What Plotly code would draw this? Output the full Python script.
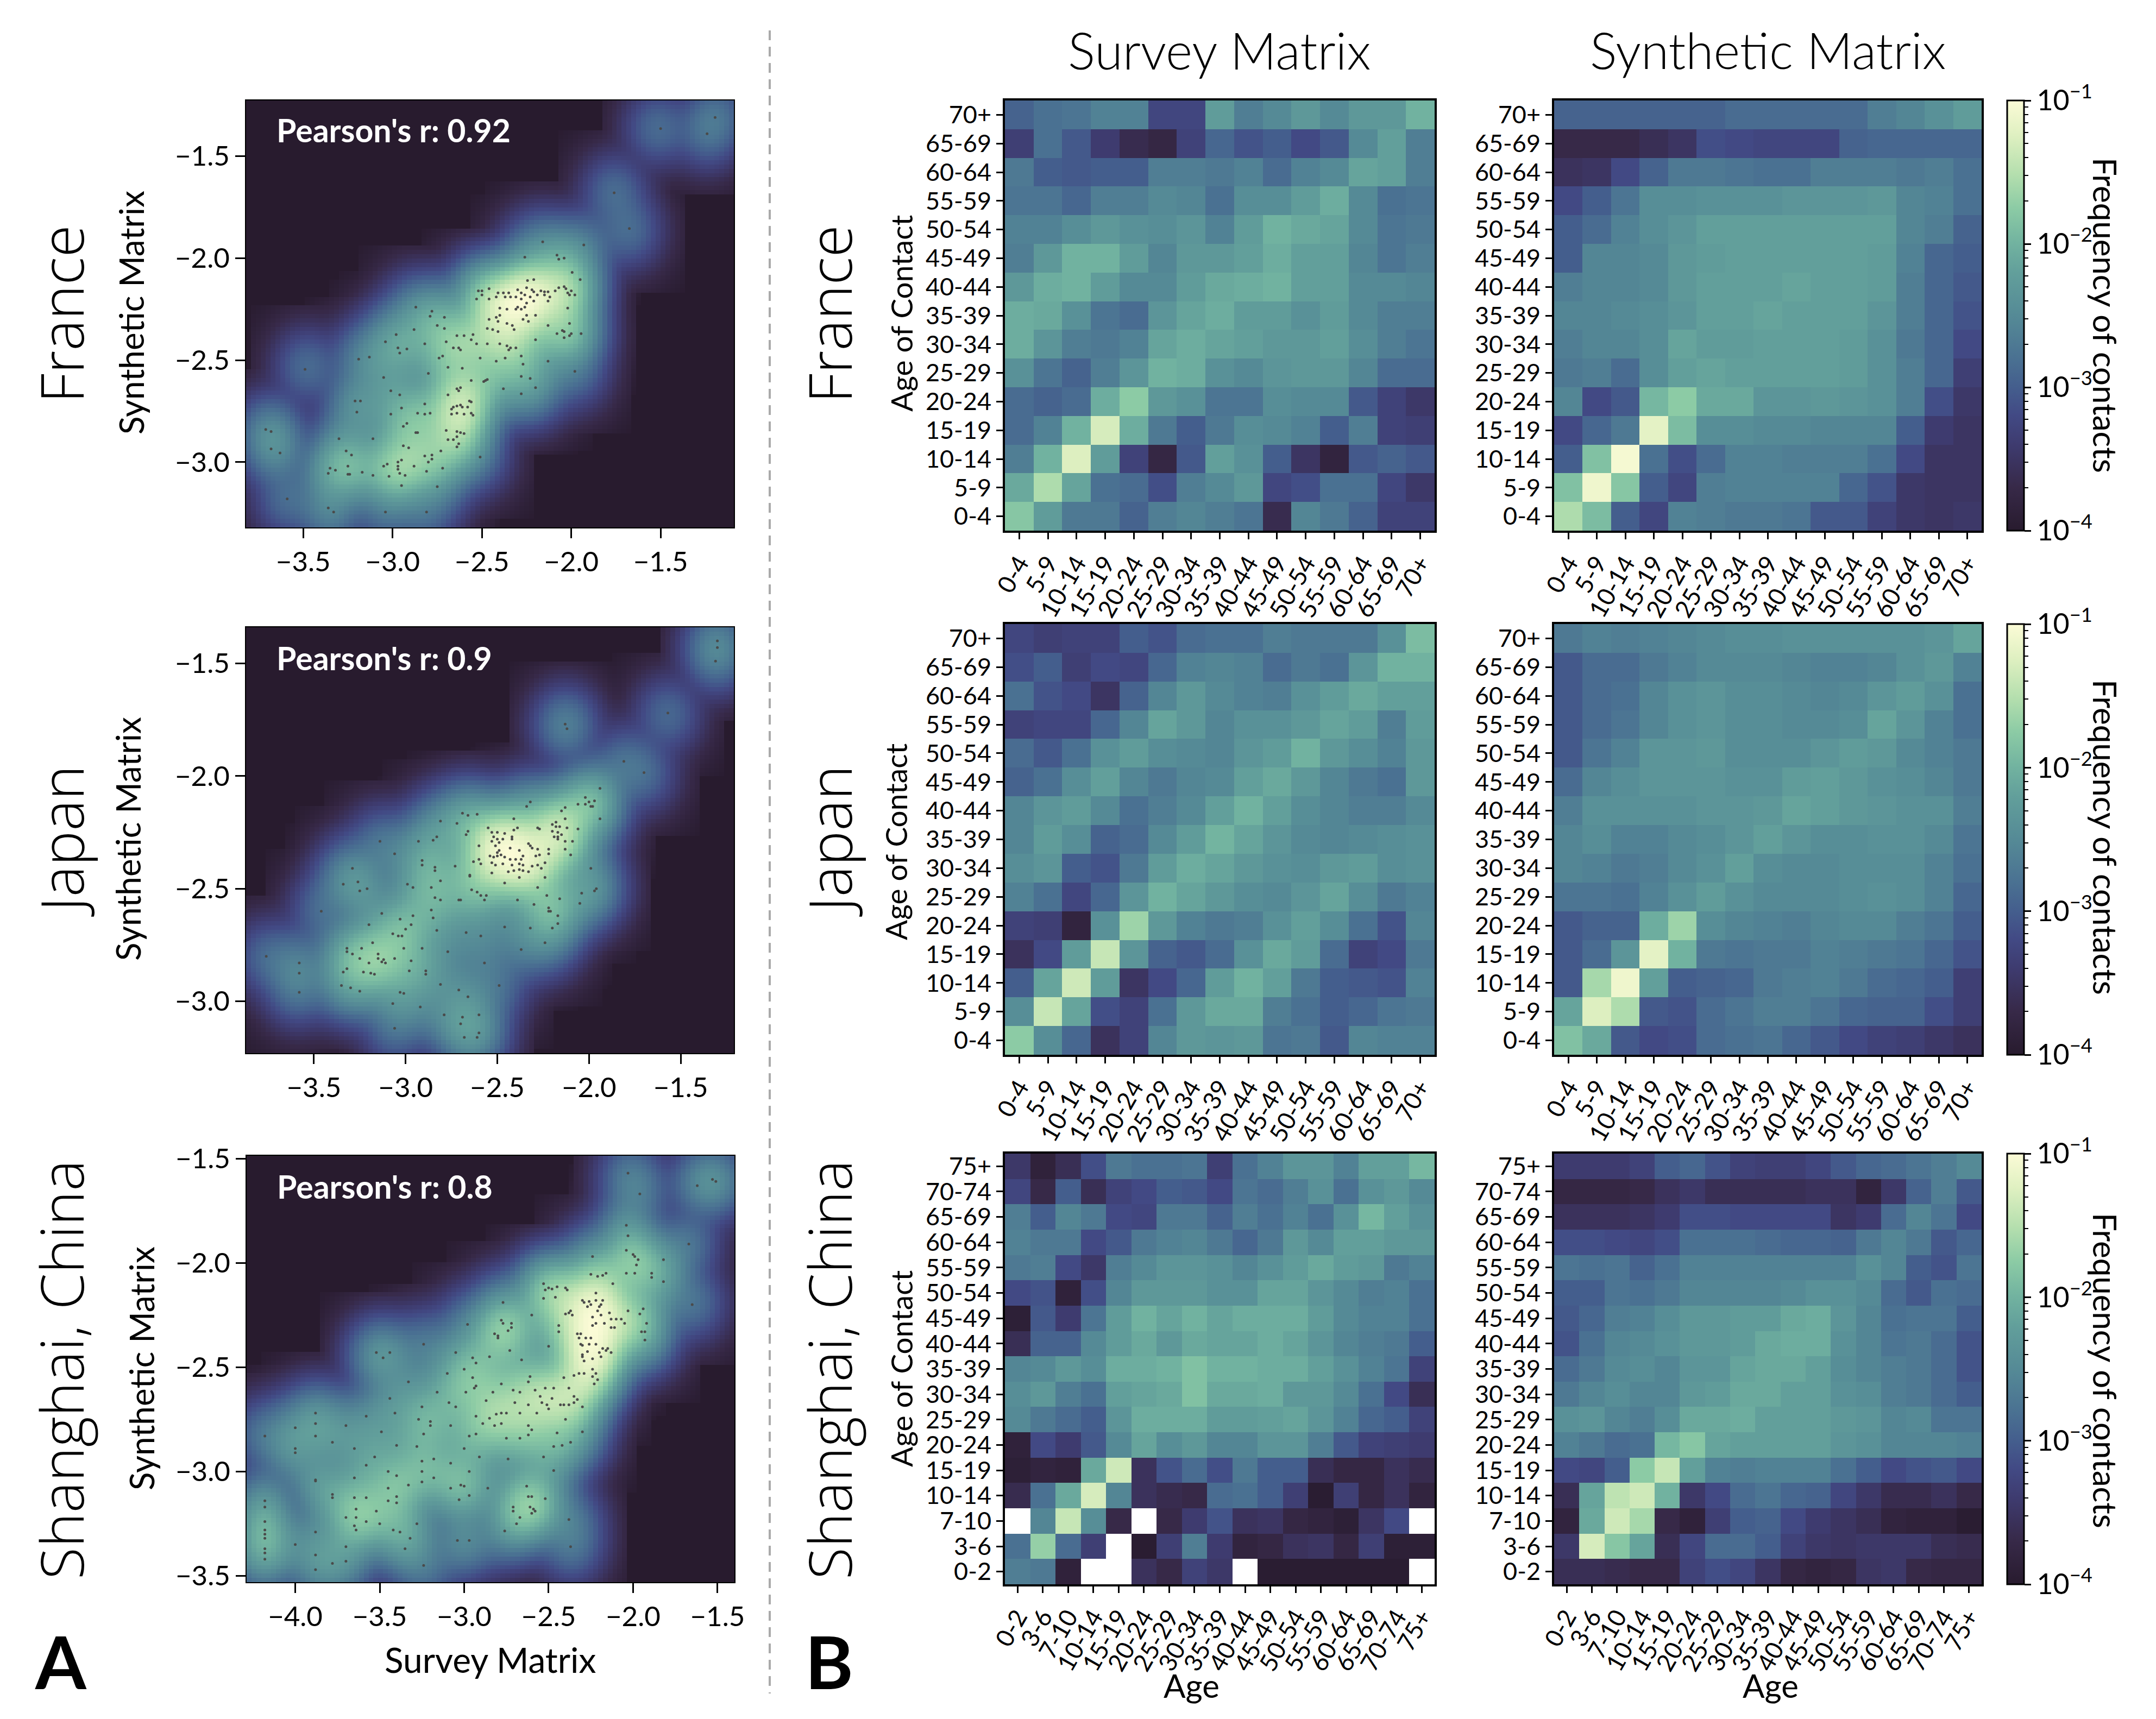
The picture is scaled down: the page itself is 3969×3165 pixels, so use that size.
import numpy as np
import plotly.graph_objects as go

W, H = 3969, 3165

ages_16 = ["0-4", "5-9", "10-14", "15-19", "20-24", "25-29", "30-34", "35-39", "40-44",
           "45-49", "50-54", "55-59", "60-64", "65-69", "70+"]
ages_17 = ["0-2", "3-6", "7-10", "10-14", "15-19", "20-24", "25-29", "30-34", "35-39", "40-44",
           "45-49", "50-54", "55-59", "60-64", "65-69", "70-74", "75+"]

# log10 contact frequency, rows listed top (oldest) to bottom (youngest)
france_survey = [
    [-2.95, -2.8, -2.75, -2.6, -2.6, -3.25, -3.25, -2.25, -2.65, -2.5, -2.3, -2.5, -2.3, -2.3, -2.0],
    [-3.35, -2.8, -3.05, -3.4, -3.65, -3.75, -3.3, -2.9, -3.1, -3.0, -3.2, -3.05, -2.5, -2.2, -2.65],
    [-2.7, -3.0, -3.05, -3.0, -3.0, -2.65, -2.65, -2.7, -2.6, -2.85, -2.6, -2.5, -2.15, -2.2, -2.65],
    [-2.75, -2.75, -2.9, -2.65, -2.65, -2.5, -2.55, -2.8, -2.45, -2.45, -2.25, -2.05, -2.5, -2.8, -2.75],
    [-2.6, -2.6, -2.45, -2.3, -2.4, -2.45, -2.35, -2.6, -2.25, -2.0, -2.1, -2.15, -2.5, -2.75, -2.7],
    [-2.65, -2.3, -2.0, -2.0, -2.25, -2.55, -2.3, -2.3, -2.2, -2.05, -2.2, -2.2, -2.55, -2.75, -2.65],
    [-2.3, -2.05, -2.0, -2.25, -2.5, -2.5, -2.25, -2.1, -2.05, -2.0, -2.2, -2.2, -2.5, -2.5, -2.55],
    [-2.05, -2.1, -2.4, -2.75, -2.85, -2.35, -2.15, -2.05, -2.25, -2.25, -2.4, -2.25, -2.5, -2.65, -2.65],
    [-2.05, -2.35, -2.65, -2.7, -2.6, -2.15, -2.05, -2.15, -2.2, -2.3, -2.3, -2.2, -2.45, -2.65, -2.75],
    [-2.4, -2.75, -2.95, -2.65, -2.35, -2.0, -2.05, -2.4, -2.5, -2.35, -2.3, -2.3, -2.55, -2.85, -2.85],
    [-2.85, -2.95, -2.85, -2.05, -1.75, -2.3, -2.4, -2.75, -2.75, -2.45, -2.5, -2.5, -3.05, -3.3, -3.45],
    [-2.85, -2.6, -2.0, -1.3, -2.05, -2.7, -3.0, -2.7, -2.45, -2.5, -2.6, -3.0, -2.65, -3.3, -3.35],
    [-2.65, -2.0, -1.25, -2.25, -3.3, -3.75, -3.05, -2.2, -2.4, -3.0, -3.5, -3.8, -3.05, -2.95, -3.05],
    [-2.1, -1.55, -2.15, -2.8, -2.85, -3.15, -2.65, -2.5, -2.3, -3.25, -3.15, -2.8, -2.8, -3.25, -3.45],
    [-1.8, -2.25, -2.7, -2.7, -2.95, -2.65, -2.55, -2.65, -2.75, -3.65, -2.55, -2.7, -2.95, -3.3, -3.3],
]
france_synthetic = [
    [-2.95, -2.95, -2.95, -2.95, -2.95, -2.95, -2.85, -2.85, -2.85, -2.85, -2.85, -2.65, -2.55, -2.4, -2.25],
    [-3.7, -3.7, -3.7, -3.6, -3.5, -3.15, -3.2, -3.25, -3.25, -3.25, -2.95, -2.9, -2.9, -2.9, -2.9],
    [-3.55, -3.5, -3.2, -2.95, -2.7, -2.7, -2.75, -2.8, -2.8, -2.65, -2.65, -2.65, -2.7, -2.65, -2.8],
    [-3.2, -3.0, -2.75, -2.45, -2.45, -2.4, -2.4, -2.4, -2.35, -2.35, -2.35, -2.3, -2.55, -2.6, -2.8],
    [-3.0, -2.85, -2.6, -2.45, -2.35, -2.2, -2.2, -2.2, -2.2, -2.2, -2.2, -2.2, -2.55, -2.65, -2.95],
    [-3.0, -2.55, -2.55, -2.5, -2.3, -2.25, -2.2, -2.2, -2.2, -2.2, -2.2, -2.25, -2.6, -2.9, -3.0],
    [-2.65, -2.55, -2.55, -2.5, -2.3, -2.2, -2.2, -2.2, -2.15, -2.2, -2.2, -2.25, -2.65, -2.9, -3.05],
    [-2.55, -2.55, -2.5, -2.45, -2.35, -2.2, -2.2, -2.15, -2.2, -2.2, -2.2, -2.35, -2.65, -2.9, -3.1],
    [-2.65, -2.55, -2.55, -2.45, -2.15, -2.25, -2.25, -2.2, -2.2, -2.2, -2.25, -2.4, -2.7, -2.9, -3.2],
    [-2.7, -2.65, -2.85, -2.45, -2.2, -2.15, -2.2, -2.2, -2.2, -2.2, -2.25, -2.4, -2.65, -2.9, -3.35],
    [-2.55, -3.2, -3.05, -1.95, -1.75, -2.1, -2.1, -2.35, -2.35, -2.3, -2.35, -2.4, -2.65, -3.15, -3.45],
    [-3.2, -2.9, -2.7, -1.2, -1.9, -2.45, -2.45, -2.5, -2.5, -2.55, -2.55, -2.55, -3.0, -3.4, -3.5],
    [-3.0, -1.85, -1.05, -2.8, -3.15, -2.85, -2.6, -2.6, -2.65, -2.65, -2.65, -2.8, -3.2, -3.5, -3.5],
    [-1.85, -1.1, -1.8, -3.0, -3.25, -2.65, -2.6, -2.6, -2.6, -2.6, -2.9, -3.1, -3.45, -3.5, -3.5],
    [-1.55, -1.9, -3.0, -3.25, -2.6, -2.65, -2.7, -2.7, -2.75, -3.05, -3.05, -3.3, -3.45, -3.5, -3.45],
]
japan_survey = [
    [-3.25, -3.35, -3.3, -3.3, -3.0, -3.1, -2.85, -2.8, -2.8, -2.65, -2.7, -2.7, -2.7, -2.4, -1.9],
    [-3.15, -3.0, -3.35, -3.2, -3.25, -2.9, -2.6, -2.55, -2.6, -2.85, -2.7, -2.8, -2.35, -2.0, -2.0],
    [-2.8, -3.1, -3.2, -3.5, -2.95, -2.55, -2.3, -2.5, -2.6, -2.65, -2.4, -2.25, -2.1, -2.2, -2.2],
    [-3.3, -3.25, -3.25, -2.9, -2.55, -2.15, -2.3, -2.55, -2.4, -2.4, -2.3, -2.15, -2.25, -2.65, -2.25],
    [-2.85, -3.05, -2.8, -2.4, -2.25, -2.45, -2.5, -2.55, -2.35, -2.25, -2.0, -2.3, -2.45, -2.6, -2.3],
    [-2.95, -2.8, -2.45, -2.2, -2.55, -2.7, -2.55, -2.5, -2.2, -2.1, -2.3, -2.55, -2.7, -2.8, -2.3],
    [-2.55, -2.35, -2.25, -2.5, -2.8, -2.65, -2.5, -2.2, -2.0, -2.2, -2.45, -2.55, -2.65, -2.65, -2.5],
    [-2.55, -2.25, -2.45, -2.95, -2.85, -2.5, -2.25, -1.98, -2.15, -2.35, -2.5, -2.55, -2.5, -2.45, -2.4],
    [-2.45, -2.35, -3.0, -3.1, -2.7, -2.25, -2.05, -2.15, -2.3, -2.4, -2.45, -2.3, -2.25, -2.45, -2.4],
    [-2.6, -2.8, -3.25, -2.9, -2.35, -2.0, -2.15, -2.3, -2.45, -2.5, -2.35, -2.15, -2.45, -2.7, -2.6],
    [-3.3, -3.35, -3.8, -2.4, -1.65, -2.3, -2.6, -2.7, -2.65, -2.4, -2.2, -2.45, -2.8, -3.1, -2.55],
    [-3.55, -3.2, -2.25, -1.4, -2.35, -2.95, -3.05, -2.85, -2.4, -2.1, -2.25, -2.85, -3.3, -3.2, -2.7],
    [-3.0, -2.15, -1.35, -2.25, -3.5, -3.2, -2.9, -2.25, -2.0, -2.2, -2.7, -3.0, -3.05, -3.1, -2.6],
    [-2.45, -1.4, -2.15, -3.15, -3.3, -2.8, -2.3, -2.1, -2.1, -2.65, -2.8, -3.0, -2.9, -2.75, -2.7],
    [-1.75, -2.45, -2.9, -3.55, -3.3, -2.55, -2.3, -2.35, -2.3, -2.75, -2.7, -3.05, -2.55, -2.6, -2.6],
]
japan_synthetic = [
    [-2.7, -2.6, -2.65, -2.6, -2.55, -2.5, -2.45, -2.45, -2.4, -2.4, -2.4, -2.4, -2.4, -2.35, -2.15],
    [-3.05, -2.85, -2.85, -2.7, -2.6, -2.5, -2.5, -2.5, -2.55, -2.6, -2.6, -2.55, -2.4, -2.3, -2.6],
    [-3.05, -2.85, -2.8, -2.55, -2.4, -2.35, -2.45, -2.45, -2.5, -2.55, -2.5, -2.35, -2.25, -2.4, -2.8],
    [-3.05, -2.85, -2.75, -2.55, -2.4, -2.35, -2.45, -2.45, -2.5, -2.5, -2.45, -2.15, -2.35, -2.6, -2.8],
    [-3.05, -2.75, -2.6, -2.35, -2.35, -2.3, -2.45, -2.45, -2.45, -2.35, -2.25, -2.3, -2.5, -2.6, -2.7],
    [-2.85, -2.55, -2.45, -2.35, -2.35, -2.35, -2.4, -2.4, -2.25, -2.2, -2.3, -2.4, -2.45, -2.55, -2.7],
    [-2.65, -2.4, -2.4, -2.4, -2.4, -2.35, -2.35, -2.3, -2.15, -2.2, -2.3, -2.35, -2.4, -2.4, -2.65],
    [-2.55, -2.45, -2.6, -2.6, -2.5, -2.45, -2.35, -2.2, -2.35, -2.45, -2.45, -2.4, -2.4, -2.5, -2.75],
    [-2.55, -2.6, -2.7, -2.65, -2.5, -2.4, -2.2, -2.45, -2.5, -2.5, -2.45, -2.45, -2.45, -2.6, -2.8],
    [-2.75, -2.75, -2.8, -2.6, -2.4, -2.25, -2.4, -2.5, -2.5, -2.5, -2.45, -2.4, -2.45, -2.6, -2.9],
    [-3.05, -2.95, -2.95, -2.05, -1.65, -2.45, -2.55, -2.6, -2.65, -2.55, -2.5, -2.5, -2.65, -2.75, -3.0],
    [-3.05, -2.85, -2.35, -1.2, -2.0, -2.7, -2.75, -2.7, -2.7, -2.6, -2.65, -2.7, -2.75, -2.9, -3.1],
    [-3.05, -1.6, -1.1, -2.2, -3.0, -2.95, -2.9, -2.7, -2.65, -2.6, -2.7, -2.85, -2.9, -3.0, -3.35],
    [-2.15, -1.25, -1.55, -3.05, -3.1, -2.85, -2.75, -2.65, -2.65, -2.75, -2.9, -2.95, -2.95, -3.15, -3.35],
    [-1.85, -2.1, -3.05, -3.2, -3.15, -2.85, -2.8, -2.75, -2.9, -3.05, -3.2, -3.3, -3.35, -3.45, -3.55],
]
# None = no contacts recorded, left white
shanghai_survey = [
    [-3.45, -3.85, -3.6, -3.15, -2.7, -2.8, -2.8, -2.75, -3.35, -2.8, -2.6, -2.35, -2.35, -2.6, -2.2, -2.2, -1.95],
    [-3.25, -3.7, -3.0, -3.6, -3.3, -3.2, -3.0, -3.05, -3.2, -2.75, -2.85, -2.65, -2.4, -2.8, -2.4, -2.3, -2.5],
    [-2.65, -3.0, -2.55, -2.7, -3.2, -3.25, -2.7, -2.7, -2.95, -2.65, -2.8, -2.6, -2.8, -2.4, -1.95, -2.2, -2.4],
    [-2.6, -2.7, -2.7, -3.2, -3.05, -2.7, -2.6, -2.55, -2.7, -2.9, -2.7, -2.3, -2.5, -2.2, -2.2, -2.3, -2.3],
    [-2.7, -2.65, -3.2, -3.45, -2.65, -2.5, -2.35, -2.35, -2.4, -2.55, -2.4, -2.25, -2.1, -2.25, -2.3, -2.7, -2.6],
    [-3.2, -3.1, -3.85, -3.15, -2.55, -2.3, -2.3, -2.3, -2.4, -2.4, -2.15, -2.15, -2.35, -2.5, -2.65, -2.6, -2.8],
    [-3.9, -3.05, -3.4, -2.75, -2.25, -2.0, -2.15, -2.0, -2.15, -2.05, -2.05, -2.05, -2.25, -2.5, -2.6, -2.6, -2.8],
    [-3.6, -2.95, -2.95, -2.5, -2.25, -2.1, -2.3, -2.1, -2.15, -2.15, -2.05, -2.15, -2.35, -2.55, -2.65, -2.7, -3.0],
    [-2.55, -2.5, -2.3, -2.45, -2.05, -2.05, -2.0, -1.85, -2.0, -2.0, -2.05, -2.05, -2.2, -2.4, -2.6, -2.75, -3.3],
    [-2.45, -2.3, -2.65, -2.8, -2.2, -2.15, -2.1, -1.85, -2.1, -2.1, -2.05, -2.3, -2.3, -2.5, -2.8, -3.2, -3.6],
    [-2.5, -2.7, -2.85, -3.0, -2.35, -2.05, -2.05, -2.05, -2.25, -2.25, -2.2, -2.15, -2.35, -2.6, -2.9, -3.0, -3.3],
    [-3.85, -3.2, -3.4, -3.05, -2.5, -2.15, -2.45, -2.3, -2.55, -2.55, -2.35, -2.35, -2.65, -3.05, -3.3, -3.35, -3.4],
    [-3.9, -3.8, -3.85, -2.1, -1.35, -3.55, -3.1, -2.85, -3.15, -2.7, -3.0, -3.0, -3.6, -3.75, -3.75, -3.55, -3.65],
    [-3.65, -2.8, -2.1, -1.3, -2.55, -3.55, -3.65, -3.7, -2.85, -2.8, -3.0, -3.35, -3.95, -3.35, -3.75, -3.55, -3.8],
    [None, -2.55, -1.4, -2.45, -3.7, None, -3.7, -3.4, -3.1, -3.55, -3.5, -3.75, -3.8, -3.9, -3.5, -3.2, None],
    [-2.8, -1.7, -2.85, -3.35, None, -3.95, -3.35, -2.65, -3.4, -3.8, -3.75, -3.55, -3.5, -3.75, -3.35, -3.9, -3.9],
    [-2.65, -2.7, -3.85, None, None, -3.55, -3.7, -3.3, -3.45, None, -3.95, -3.95, -3.95, -3.95, -3.95, -3.95, None],
]
shanghai_synthetic = [
    [-3.4, -3.4, -3.4, -3.3, -3.0, -2.9, -3.1, -3.3, -3.35, -3.35, -3.25, -3.05, -2.9, -2.85, -2.75, -2.65, -2.5],
    [-3.75, -3.75, -3.75, -3.7, -3.55, -3.45, -3.6, -3.6, -3.6, -3.6, -3.55, -3.55, -3.8, -3.45, -2.95, -2.65, -3.05],
    [-3.55, -3.55, -3.55, -3.5, -3.4, -3.15, -3.15, -3.2, -3.2, -3.2, -3.2, -3.5, -3.4, -2.85, -2.55, -2.75, -3.2],
    [-3.15, -3.15, -3.2, -3.25, -3.15, -2.8, -2.8, -2.8, -2.85, -2.9, -2.9, -2.95, -2.7, -2.55, -2.7, -3.05, -2.9],
    [-2.75, -2.8, -2.75, -2.95, -2.8, -2.6, -2.6, -2.6, -2.6, -2.6, -2.6, -2.6, -2.4, -2.55, -3.0, -3.1, -2.75],
    [-3.0, -3.0, -2.75, -2.8, -2.7, -2.55, -2.55, -2.55, -2.55, -2.5, -2.4, -2.4, -2.5, -2.85, -3.05, -2.8, -2.85],
    [-3.05, -2.9, -2.65, -2.6, -2.45, -2.3, -2.3, -2.25, -2.25, -2.1, -2.05, -2.35, -2.55, -2.8, -2.75, -2.75, -3.0],
    [-3.1, -2.8, -2.55, -2.5, -2.4, -2.3, -2.3, -2.25, -2.1, -2.05, -2.05, -2.4, -2.55, -2.75, -2.7, -2.85, -3.1],
    [-2.85, -2.7, -2.5, -2.45, -2.55, -2.35, -2.35, -2.15, -2.1, -2.1, -2.2, -2.45, -2.55, -2.65, -2.7, -2.85, -3.1],
    [-2.7, -2.55, -2.45, -2.55, -2.55, -2.3, -2.25, -2.1, -2.1, -2.2, -2.2, -2.4, -2.45, -2.65, -2.7, -2.85, -3.0],
    [-2.4, -2.35, -2.55, -2.65, -2.45, -2.1, -2.1, -2.05, -2.2, -2.2, -2.2, -2.3, -2.35, -2.55, -2.5, -2.75, -2.75],
    [-2.6, -2.7, -2.85, -2.8, -1.95, -1.8, -2.15, -2.2, -2.2, -2.2, -2.2, -2.35, -2.4, -2.55, -2.55, -2.55, -2.6],
    [-3.2, -3.25, -3.0, -1.75, -1.4, -2.2, -2.6, -2.65, -2.6, -2.6, -2.6, -2.8, -3.0, -3.2, -3.1, -3.05, -3.2],
    [-3.6, -2.15, -1.45, -1.35, -2.0, -3.45, -3.2, -2.85, -2.75, -2.9, -2.95, -3.25, -3.45, -3.65, -3.65, -3.55, -3.7],
    [-3.8, -2.1, -1.35, -1.6, -3.7, -3.85, -3.35, -3.0, -2.95, -3.2, -3.4, -3.5, -3.6, -3.8, -3.85, -3.85, -3.95],
    [-3.45, -1.3, -1.8, -2.15, -3.6, -3.25, -2.85, -2.85, -3.0, -3.3, -3.45, -3.5, -3.45, -3.45, -3.45, -3.6, -3.65],
    [-3.6, -3.6, -3.65, -3.7, -3.7, -3.3, -3.15, -3.25, -3.5, -3.75, -3.8, -3.75, -3.5, -3.45, -3.7, -3.75, -3.75],
]

# (survey, synthetic) log10 pairs
france_points = [
    (-1.195, -1.31), (-1.5, -1.365), (-1.24, -1.39), (-1.76, -1.68), (-1.675, -1.855), (-2.16, -1.92), (-1.93, -1.935),
    (-2.26, -1.995), (-2.08, -1.985), (-2.07, -2.005), (-2.04, -2.0), (-1.995, -2.07), (-1.95, -2.105), (-2.21, -2.105),
    (-2.245, -2.11), (-2.5, -2.16), (-2.52, -2.16), (-2.46, -2.15), (-2.41, -2.17), (-2.38, -2.17), (-2.35, -2.17),
    (-2.3, -2.155), (-2.28, -2.17), (-2.25, -2.145), (-2.22, -2.155), (-2.21, -2.165), (-2.17, -2.16), (-2.15, -2.165),
    (-2.13, -2.165), (-2.09, -2.16), (-2.07, -2.145), (-2.04, -2.14), (-2.03, -2.15), (-2.0, -2.16), (-1.98, -2.18),
    (-2.01, -2.18), (-2.02, -2.17), (-2.53, -2.2), (-2.5, -2.18), (-2.46, -2.2), (-2.42, -2.19), (-2.37, -2.19),
    (-2.34, -2.19), (-2.31, -2.19), (-2.28, -2.2), (-2.26, -2.18), (-2.23, -2.19), (-2.19, -2.18), (-2.15, -2.18),
    (-2.12, -2.19), (-2.21, -2.21), (-2.25, -2.22), (-2.13, -2.21), (-2.4, -2.245), (-2.36, -2.25), (-2.3, -2.24),
    (-2.28, -2.25), (-2.26, -2.24), (-2.31, -2.25), (-2.25, -2.28), (-2.27, -2.3), (-2.2, -2.28), (-2.24, -2.31),
    (-2.02, -2.245), (-2.4, -2.28), (-2.42, -2.29), (-2.46, -2.3), (-2.41, -2.31), (-2.36, -2.32), (-2.33, -2.33),
    (-2.32, -2.35), (-2.47, -2.345), (-2.44, -2.35), (-2.41, -2.36), (-2.13, -2.33), (-2.01, -2.32), (-2.05, -2.355),
    (-2.04, -2.36), (-2.08, -2.37), (-2.04, -2.39), (-2.01, -2.38), (-1.945, -2.37), (-2.0, -2.37), (-2.55, -2.375),
    (-2.6, -2.38), (-2.64, -2.38), (-2.56, -2.4), (-2.66, -2.44), (-2.63, -2.44), (-2.62, -2.45), (-2.53, -2.42),
    (-2.47, -2.42), (-2.4, -2.42), (-2.36, -2.43), (-2.34, -2.44), (-2.35, -2.45), (-2.31, -2.44), (-2.28, -2.48),
    (-2.2, -2.4), (-2.72, -2.48), (-2.74, -2.49), (-2.7, -2.41), (-2.82, -2.42), (-2.88, -2.35), (-2.98, -2.375),
    (-3.04, -2.41), (-2.97, -2.44), (-2.96, -2.465), (-2.92, -2.445), (-3.13, -2.485), (-3.19, -2.495), (-2.75, -2.33),
    (-2.71, -2.345), (-2.87, -2.24), (-2.78, -2.26), (-2.79, -2.285), (-2.71, -2.29), (-2.51, -2.49), (-2.42, -2.505),
    (-2.37, -2.49), (-2.27, -2.52), (-2.13, -2.505), (-2.69, -2.535), (-2.61, -2.54), (-2.28, -2.58), (-2.23, -2.59),
    (-1.98, -2.555), (-3.49, -2.545), (-3.05, -2.585), (-2.8, -2.565), (-2.56, -2.6), (-2.49, -2.605), (-2.48, -2.6),
    (-2.47, -2.595), (-2.38, -2.64), (-2.2, -2.635), (-2.28, -2.665), (-2.64, -2.64), (-2.62, -2.635), (-2.63, -2.65),
    (-2.69, -2.67), (-3.01, -2.65), (-2.96, -2.67), (-2.57, -2.7), (-2.56, -2.705), (-3.21, -2.7), (-3.18, -2.7),
    (-2.82, -2.715), (-2.95, -2.735), (-2.64, -2.725), (-2.66, -2.73), (-2.62, -2.72), (-2.61, -2.73), (-2.67, -2.74),
    (-2.58, -2.73), (-3.2, -2.755), (-3.01, -2.765), (-2.86, -2.76), (-2.82, -2.765), (-2.79, -2.76), (-2.67, -2.765),
    (-2.64, -2.76), (-2.6, -2.765), (-2.56, -2.76), (-2.55, -2.77), (-2.92, -2.81), (-2.94, -2.825), (-2.87, -2.855),
    (-2.86, -2.855), (-2.7, -2.845), (-2.64, -2.85), (-2.62, -2.855), (-2.6, -2.86), (-2.66, -2.89), (-2.69, -2.89),
    (-2.64, -2.875), (-2.63, -2.91), (-2.64, -2.925), (-3.3, -2.885), (-3.11, -2.885), (-3.71, -2.84), (-3.68, -2.85),
    (-3.68, -2.935), (-3.63, -2.955), (-2.94, -2.92), (-2.91, -2.93), (-2.73, -2.945), (-3.26, -2.945), (-3.23, -2.965),
    (-2.78, -2.965), (-2.82, -2.97), (-2.78, -2.985), (-2.51, -2.975), (-3.25, -3.02), (-3.05, -3.02), (-3.03, -3.01),
    (-2.95, -2.99), (-2.97, -3.0), (-2.97, -3.02), (-2.88, -3.02), (-2.8, -3.0), (-2.72, -3.03), (-3.36, -3.055),
    (-3.35, -3.03), (-3.32, -3.04), (-3.25, -3.06), (-3.24, -3.06), (-3.17, -3.05), (-3.11, -3.065), (-3.02, -3.07),
    (-2.96, -3.055), (-2.93, -3.065), (-2.97, -3.035), (-2.81, -3.045), (-2.95, -3.115), (-2.75, -3.12), (-3.59, -3.18),
    (-3.36, -3.225), (-3.33, -3.245), (-3.04, -3.245), (-2.81, -3.245),
]
japan_points = [
    (-1.3, -1.4), (-1.3, -1.43), (-1.31, -1.49), (-1.57, -1.72), (-2.13, -1.77), (-2.12, -1.79), (-1.81, -1.935),
    (-1.7, -1.985), (-1.94, -2.055), (-2.02, -2.095), (-2.0, -2.115), (-1.97, -2.11), (-2.06, -2.125), (-2.02, -2.125),
    (-1.98, -2.135), (-1.99, -2.135), (-2.32, -2.115), (-2.34, -2.135), (-2.15, -2.155), (-2.13, -2.14), (-1.94, -2.19),
    (-2.41, -2.19), (-2.69, -2.165), (-2.66, -2.175), (-2.61, -2.17), (-2.81, -2.2), (-2.72, -2.21), (-2.13, -2.19),
    (-2.2, -2.215), (-2.18, -2.205), (-2.18, -2.225), (-2.16, -2.225), (-2.12, -2.23), (-2.06, -2.235), (-2.39, -2.23),
    (-2.41, -2.24), (-2.28, -2.23), (-2.27, -2.235), (-2.55, -2.23), (-2.66, -2.245), (-2.67, -2.26), (-2.5, -2.25),
    (-2.46, -2.255), (-2.83, -2.27), (-2.2, -2.245), (-2.17, -2.25), (-2.17, -2.27), (-2.15, -2.26), (-2.19, -2.27),
    (-2.17, -2.28), (-2.13, -2.29), (-2.09, -2.29), (-2.53, -2.25), (-2.52, -2.27), (-2.5, -2.28), (-2.47, -2.28),
    (-2.49, -2.295), (-2.53, -2.29), (-2.42, -2.27), (-2.42, -2.28), (-2.33, -2.3), (-2.6, -2.31), (-2.51, -2.31),
    (-2.49, -2.33), (-2.5, -2.34), (-2.43, -2.32), (-2.38, -2.33), (-2.32, -2.31), (-2.31, -2.32), (-2.28, -2.325),
    (-2.22, -2.325), (-2.13, -2.325), (-2.6, -2.37), (-2.54, -2.355), (-2.52, -2.36), (-2.5, -2.355), (-2.48, -2.35),
    (-2.46, -2.36), (-2.43, -2.37), (-2.4, -2.37), (-2.37, -2.37), (-2.36, -2.355), (-2.29, -2.355), (-2.27, -2.35),
    (-2.22, -2.345), (-2.1, -2.35), (-2.59, -2.39), (-2.53, -2.385), (-2.51, -2.395), (-2.47, -2.39), (-2.42, -2.395),
    (-2.38, -2.39), (-2.36, -2.395), (-2.31, -2.4), (-2.28, -2.395), (-2.24, -2.385), (-2.41, -2.42), (-2.44, -2.425),
    (-2.38, -2.415), (-2.36, -2.42), (-2.33, -2.425), (-2.26, -2.41), (-3.14, -2.29), (-2.93, -2.29), (-2.85, -2.285),
    (-3.06, -2.345), (-2.91, -2.375), (-2.91, -2.395), (-2.73, -2.4), (-2.63, -2.38), (-2.84, -2.405), (-2.84, -2.42),
    (-3.29, -2.41), (-2.65, -2.44), (-2.65, -2.445), (-2.53, -2.43), (-3.26, -2.47), (-3.34, -2.48), (-2.99, -2.48),
    (-2.96, -2.495), (-2.81, -2.465), (-2.86, -2.495), (-2.46, -2.475), (-2.38, -2.45), (-2.24, -2.45), (-1.99, -2.41),
    (-1.97, -2.51), (-1.96, -2.5), (-3.25, -2.51), (-3.21, -2.5), (-2.64, -2.505), (-2.61, -2.515), (-2.28, -2.495),
    (-2.04, -2.52), (-2.23, -2.53), (-2.16, -2.545), (-2.59, -2.53), (-2.56, -2.53), (-2.57, -2.55), (-2.84, -2.54),
    (-2.81, -2.55), (-2.71, -2.55), (-2.7, -2.55), (-2.39, -2.55), (-2.3, -2.57), (-2.05, -2.565), (-3.46, -2.6),
    (-2.86, -2.595), (-2.85, -2.63), (-2.22, -2.585), (-2.21, -2.6), (-2.22, -2.6), (-3.13, -2.61), (-2.96, -2.62),
    (-3.03, -2.635), (-2.17, -2.62), (-3.2, -2.66), (-2.97, -2.66), (-3.0, -2.68), (-2.83, -2.685), (-2.67, -2.695),
    (-2.46, -2.67), (-2.32, -2.675), (-2.2, -2.675), (-2.17, -2.655), (-3.07, -2.7), (-3.04, -2.71), (-3.02, -2.71),
    (-2.59, -2.71), (-3.18, -2.74), (-2.24, -2.74), (-3.32, -2.765), (-3.24, -2.765), (-3.32, -2.78), (-3.01, -2.765),
    (-2.91, -2.765), (-3.29, -2.79), (-2.77, -2.78), (-3.15, -2.79), (-3.15, -2.81), (-3.25, -2.81), (-3.06, -2.81),
    (-3.12, -2.815), (-3.2, -2.83), (-3.11, -2.83), (-2.37, -2.77), (-3.13, -2.825), (-2.97, -2.82), (-2.57, -2.83),
    (-3.32, -2.855), (-3.34, -2.87), (-3.23, -2.87), (-3.19, -2.875), (-3.17, -2.88), (-2.98, -2.865), (-2.89, -2.865),
    (-2.89, -2.88), (-3.58, -2.83), (-3.58, -2.875), (-3.76, -2.8), (-3.58, -2.96), (-3.35, -2.93), (-3.3, -2.94),
    (-3.25, -2.955), (-2.81, -2.925), (-2.71, -2.95), (-2.49, -2.93), (-3.03, -2.96), (-3.01, -2.965), (-2.66, -2.98),
    (-3.07, -3.01), (-2.92, -3.025), (-2.79, -3.06), (-2.69, -3.07), (-2.7, -3.1), (-2.6, -3.06), (-3.06, -3.12),
    (-2.6, -3.14), (-2.61, -3.16), (-2.68, -3.16),
]
shanghai_points = [
    (-1.53, -1.6), (-1.51, -1.61), (-1.62, -1.63), (-2.03, -1.57), (-1.96, -1.67), (-2.04, -1.82), (-2.03, -1.87),
    (-1.67, -1.91), (-2.04, -1.94), (-2.0, -1.96), (-1.99, -1.97), (-1.97, -1.985), (-2.24, -1.97), (-1.82, -1.985),
    (-1.98, -2.01), (-2.04, -2.05), (-1.99, -2.05), (-1.89, -2.05), (-1.89, -2.07), (-1.82, -2.09), (-2.25, -2.055),
    (-2.21, -2.065), (-2.18, -2.06), (-2.16, -2.05), (-2.12, -2.1), (-2.53, -2.1), (-2.5, -2.12), (-2.48, -2.125),
    (-2.52, -2.13), (-2.45, -2.115), (-2.39, -2.13), (-2.4, -2.12), (-2.53, -2.17), (-2.46, -2.165), (-2.22, -2.145),
    (-2.3, -2.18), (-2.29, -2.19), (-2.26, -2.185), (-2.22, -2.18), (-2.18, -2.18), (-2.27, -2.21), (-2.25, -2.2),
    (-2.2, -2.21), (-2.19, -2.2), (-2.21, -2.23), (-1.65, -2.2), (-2.77, -2.19), (-2.03, -2.23), (-1.94, -2.22),
    (-1.96, -2.245), (-2.37, -2.23), (-2.4, -2.245), (-2.38, -2.24), (-2.36, -2.25), (-2.24, -2.26), (-2.19, -2.25),
    (-2.13, -2.27), (-2.1, -2.27), (-2.14, -2.24), (-2.07, -2.27), (-2.05, -2.29), (-2.6, -2.25), (-2.78, -2.275),
    (-1.92, -2.29), (-2.22, -2.29), (-2.24, -2.3), (-2.17, -2.29), (-2.11, -2.31), (-2.13, -2.31), (-2.72, -2.29),
    (-2.77, -2.29), (-2.98, -2.295), (-2.44, -2.3), (-2.44, -2.33), (-2.72, -2.31), (-2.74, -2.325), (-1.95, -2.33),
    (-1.93, -2.33), (-1.93, -2.37), (-2.31, -2.34), (-2.33, -2.34), (-2.32, -2.36), (-2.28, -2.36), (-2.25, -2.36),
    (-2.3, -2.395), (-2.82, -2.34), (-2.8, -2.35), (-2.8, -2.36), (-3.24, -2.39), (-2.31, -2.39), (-2.5, -2.4),
    (-2.26, -2.39), (-2.27, -2.425), (-2.22, -2.39), (-2.18, -2.41), (-2.15, -2.41), (-2.13, -2.43), (-3.52, -2.43),
    (-3.44, -2.43), (-3.48, -2.455), (-3.05, -2.43), (-2.73, -2.42), (-2.2, -2.43), (-2.16, -2.42), (-2.3, -2.44),
    (-2.3, -2.45), (-2.85, -2.45), (-2.95, -2.455), (-2.93, -2.48), (-2.66, -2.465), (-2.29, -2.47), (-2.24, -2.46),
    (-2.19, -2.45), (-3.0, -2.51), (-3.1, -2.53), (-2.32, -2.53), (-2.29, -2.53), (-2.24, -2.51), (-2.22, -2.53),
    (-2.24, -2.545), (-2.41, -2.55), (-2.35, -2.54), (-2.21, -2.56), (-2.61, -2.545), (-2.62, -2.57), (-3.33, -2.57),
    (-2.95, -2.55), (-2.93, -2.59), (-2.78, -2.58), (-2.23, -2.58), (-3.44, -2.65), (-3.16, -2.62), (-2.99, -2.62),
    (-2.94, -2.6), (-2.83, -2.62), (-2.71, -2.61), (-2.67, -2.62), (-2.58, -2.61), (-2.52, -2.6), (-2.47, -2.6),
    (-2.38, -2.6), (-2.48, -2.65), (-2.55, -2.64), (-2.87, -2.66), (-2.35, -2.64), (-2.33, -2.655), (-3.25, -2.69),
    (-3.09, -2.67), (-3.05, -2.69), (-2.7, -2.67), (-2.62, -2.68), (-2.54, -2.67), (-2.51, -2.68), (-2.43, -2.68),
    (-2.41, -2.68), (-2.38, -2.68), (-2.35, -2.67), (-2.3, -2.69), (-3.58, -2.735), (-3.41, -2.72), (-3.88, -2.72),
    (-2.93, -2.735), (-2.81, -2.725), (-2.78, -2.72), (-2.75, -2.72), (-2.67, -2.72), (-2.57, -2.72), (-2.5, -2.7),
    (-3.88, -2.77), (-4.0, -2.79), (-3.7, -2.78), (-3.27, -2.75), (-3.2, -2.76), (-3.2, -2.78), (-3.08, -2.78),
    (-2.89, -2.77), (-2.82, -2.78), (-2.78, -2.77), (-2.85, -2.745), (-2.4, -2.75), (-2.62, -2.78), (-2.6, -2.8),
    (-3.49, -2.81), (-3.24, -2.82), (-4.18, -2.83), (-3.88, -2.83), (-2.93, -2.82), (-2.97, -2.83), (-2.75, -2.84),
    (-2.67, -2.84), (-2.62, -2.825), (-2.45, -2.815), (-2.3, -2.81), (-3.78, -2.86), (-4.0, -2.89), (-3.65, -2.89),
    (-3.4, -2.875), (-3.28, -2.88), (-3.0, -2.89), (-2.47, -2.88), (-2.42, -2.875), (-2.37, -2.86), (-4.0, -2.91),
    (-3.53, -2.93), (-3.25, -2.95), (-3.18, -2.94), (-3.08, -2.96), (-2.91, -2.93), (-2.74, -2.94), (-2.53, -2.93),
    (-3.58, -2.97), (-3.25, -3.0), (-3.45, -3.0), (-2.97, -3.0), (-2.47, -2.995), (-3.65, -3.03), (-3.4, -3.02),
    (-3.25, -3.05), (-3.18, -3.03), (-3.88, -3.04), (-3.88, -3.045), (-3.45, -3.08), (-3.33, -3.065), (-3.08, -3.08),
    (-3.02, -3.065), (-3.0, -3.07), (-2.86, -3.08), (-2.63, -3.07), (-3.78, -3.11), (-3.78, -3.125), (-3.65, -3.125),
    (-3.58, -3.125), (-3.4, -3.12), (-2.97, -3.115), (-3.03, -3.135), (-2.6, -3.12), (-2.62, -3.12), (-2.52, -3.13),
    (-4.18, -3.14), (-3.64, -3.18), (-3.4, -3.15), (-3.45, -3.14), (-3.52, -3.19), (-4.18, -3.17), (-2.71, -3.17),
    (-2.71, -3.19), (-2.61, -3.17), (-2.59, -3.18), (-2.6, -3.2), (-2.58, -3.19), (-3.7, -3.22), (-3.64, -3.22),
    (-3.58, -3.24), (-4.18, -3.24), (-3.5, -3.25), (-3.28, -3.25), (-2.67, -3.22), (-2.69, -3.25), (-2.38, -3.23),
    (-3.65, -3.26), (-3.64, -3.28), (-4.18, -3.28), (-4.18, -3.3), (-4.18, -3.32), (-3.88, -3.29), (-3.42, -3.28),
    (-3.38, -3.29), (-2.76, -3.285), (-3.32, -3.32), (-3.04, -3.33), (-2.97, -3.33), (-4.0, -3.35), (-3.7, -3.36),
    (-3.35, -3.37), (-2.37, -3.36), (-4.18, -3.37), (-4.18, -3.39), (-3.88, -3.4), (-3.7, -3.43), (-3.78, -3.44),
    (-4.18, -3.42), (-3.24, -3.45), (-3.88, -3.47),
]

pearson = ["Pearson's r: 0.92", "Pearson's r: 0.9", "Pearson's r: 0.8"]
countries = ["France", "Japan", "Shanghai, China"]

cmap = [
    [0.0, "#281b2e"], [0.1, "#372948"], [0.2, "#3e3b6f"], [0.27, "#424a85"], [0.33, "#445d8d"],
    [0.4, "#4a7192"], [0.5, "#558a96"], [0.6, "#629f9b"], [0.67, "#72b3a0"], [0.75, "#8ccba5"],
    [0.83, "#b5dfae"], [0.92, "#dff0c1"], [1.0, "#fbfbd6"],
]

FONT = "Lato"
LIGHT = "Open Sans"


def px_x(x):
    return x / W


def px_y(y):
    return 1 - y / H


def density(points, xr, yr, bins=100, sx=3.4, sy=4.4, rx=11, ry=14, gamma=0.3):
    # histogram blurred with a truncated gaussian, so the support stays blocky
    xs = [p[0] for p in points]
    ys = [p[1] for p in points]
    hist, xe, ye = np.histogram2d(xs, ys, bins=bins, range=[xr, yr])
    kx = np.exp(-0.5 * (np.arange(-rx, rx + 1) / sx) ** 2)
    ky = np.exp(-0.5 * (np.arange(-ry, ry + 1) / sy) ** 2)
    d = np.apply_along_axis(lambda c: np.convolve(c, kx, mode="same"), 0, hist)
    d = np.apply_along_axis(lambda c: np.convolve(c, ky, mode="same"), 1, d)
    z = (d / d.max()) ** gamma
    return (xe[:-1] + xe[1:]) / 2, (ye[:-1] + ye[1:]) / 2, z.T


fig = go.Figure()

# pixel boxes for each row
left_boxes = [(185, 971), (1155, 1939), (2128, 2913)]
mat_boxes = [(185, 977), (1149, 1942), (2124, 2917)]
left_x = [(453, 1351), (453, 1351), (454, 1352)]
x_ranges = [[-3.82, -1.09], [-3.87, -1.21], [-4.288, -1.40]]
y_ranges = [[-3.32, -1.227], [-3.23, -1.34], [-3.53, -1.487]]
all_points = [france_points, japan_points, shanghai_points]
surveys = [france_survey, japan_survey, shanghai_survey]
synthetics = [france_synthetic, japan_synthetic, shanghai_synthetic]
labels = [ages_16[:15], ages_16[:15], ages_17]

layout = {}
axis_common = dict(showgrid=False, zeroline=False, showline=True, mirror=True, linecolor="black",
                   ticks="outside", tickcolor="black")

for r in range(3):
    # density panel
    n = r + 1
    xc, yc, z = density(all_points[r], x_ranges[r], y_ranges[r])
    fig.add_trace(go.Heatmap(x=xc, y=yc, z=z, zmin=0, zmax=1, colorscale=cmap, showscale=False,
                             xaxis=f"x{n}", yaxis=f"y{n}", hoverinfo="skip"))
    fig.add_trace(go.Scatter(x=[p[0] for p in all_points[r]], y=[p[1] for p in all_points[r]], mode="markers",
                             marker=dict(size=5, color="#4a4a4a"), showlegend=False,
                             xaxis=f"x{n}", yaxis=f"y{n}", hoverinfo="skip"))
    top, bot = left_boxes[r]
    tick_font = dict(family=FONT, size=51, color="black", weight=400)
    layout[f"xaxis{n}"] = dict(axis_common, domain=[px_x(left_x[r][0]), px_x(left_x[r][1])], range=x_ranges[r],
                               anchor=f"y{n}", dtick=0.5, tick0=-4, tickformat=".1f", ticklen=18, tickwidth=3,
                               linewidth=2, tickfont=tick_font)
    layout[f"yaxis{n}"] = dict(axis_common, domain=[px_y(bot), px_y(top)], range=y_ranges[r],
                               anchor=f"x{n}", dtick=0.5, tick0=-4, tickformat=".1f", ticklen=18, tickwidth=3,
                               linewidth=2, tickfont=tick_font)

    # survey and synthetic matrices
    top, bot = mat_boxes[r]
    labs = labels[r]
    k = len(labs)
    tick_font = dict(family=FONT, size=45, color="black", weight=400)
    for c, (mat, x0, x1) in enumerate([(surveys[r], 1850, 2641), (synthetics[r], 2861, 3648)]):
        n = 4 + r + 3 * c
        trace = dict(z=mat, x=list(range(k)), y=list(range(k)), zmin=-4, zmax=-1, colorscale=cmap,
                     xaxis=f"x{n}", yaxis=f"y{n}", hoverongaps=False, hoverinfo="skip")
        if c == 1:
            trace.update(showscale=True, colorbar=dict(
                x=px_x(3695), xanchor="left", y=px_y(top), yanchor="top", len=(bot - top) / H, lenmode="fraction",
                thickness=31, thicknessmode="pixels", xpad=0, ypad=0, outlinewidth=3, outlinecolor="black",
                ticks="", showticklabels=False))
        else:
            trace.update(showscale=False)
        fig.add_trace(go.Heatmap(**trace))
        layout[f"xaxis{n}"] = dict(axis_common, domain=[px_x(x0), px_x(x1)], range=[-0.5, k - 0.5],
                                   anchor=f"y{n}", tickmode="array", tickvals=list(range(k)), ticktext=labs,
                                   tickangle=-60, ticklen=12, tickwidth=3, linewidth=4, tickfont=tick_font)
        layout[f"yaxis{n}"] = dict(axis_common, domain=[px_y(bot), px_y(top)], range=[k - 0.5, -0.5],
                                   anchor=f"x{n}", tickmode="array", tickvals=list(range(k)),
                                   ticktext=labs[::-1], ticklen=12, tickwidth=3, linewidth=4, tickfont=tick_font)

    # log ticks beside the colour bar
    n = 10 + r
    fig.add_trace(go.Scatter(x=[0], y=[1e-3], mode="markers", marker=dict(opacity=0), showlegend=False,
                             xaxis=f"x{n}", yaxis=f"y{n}", hoverinfo="skip"))
    layout[f"xaxis{n}"] = dict(domain=[px_x(3695), px_x(3726)], range=[-1, 1], visible=False, anchor=f"y{n}")
    layout[f"yaxis{n}"] = dict(domain=[px_y(bot), px_y(top)], type="log", range=[-4, -1], side="right",
                               anchor=f"x{n}", showgrid=False, zeroline=False, showline=False,
                               tickmode="array", tickvals=[1e-4, 1e-3, 1e-2, 1e-1],
                               ticktext=["10<sup>−4</sup>", "10<sup>−3</sup>", "10<sup>−2</sup>", "10<sup>−1</sup>"],
                               ticks="outside", ticklen=12, tickwidth=3, tickcolor="black",
                               tickfont=dict(family=FONT, size=52, color="black", weight=400),
                               minor=dict(ticks="outside", ticklen=7, tickwidth=2, tickcolor="black",
                                          tickvals=[m * 10.0 ** e for e in (-4, -3, -2) for m in range(2, 10)]))


def note(text, x, y, size, angle=0, family=FONT, color="black", weight=400, xanchor="center"):
    font = dict(family=family, size=size, color=color, weight=weight)
    return dict(text=text, x=px_x(x), y=px_y(y), xref="paper", yref="paper", showarrow=False, textangle=angle,
                xanchor=xanchor, yanchor="middle", font=font)


annotations = [
    note("Survey Matrix", 2245, 91, 94, weight=300),
    note("Synthetic Matrix", 3254, 91, 93, weight=300),
    note("Survey Matrix", 902, 3055, 64),
    note("Age", 2193, 3103, 60),
    note("Age", 3259, 3103, 60),
    note("A", 112, 3058, 135, weight=700),
    note("B", 1526, 3058, 135, weight=700),
]
country_y = [578, 1549, 2522]
syn_pos = [(241, 576), (235, 1545), (260, 2520)]
age_pos = [(1659, 577), (1649, 1550), (1659, 2520)]
freq_y = [580, 1541, 2523]
pearson_pos = [(507, 239), (507, 1212), (508, 2184)]
for r in range(3):
    annotations += [
        note(countries[r], 112, country_y[r], 108, angle=-90, family=LIGHT, weight=300),
        note(countries[r], 1526, country_y[r], 108, angle=-90, family=LIGHT, weight=300),
        note("Synthetic Matrix", syn_pos[r][0], syn_pos[r][1], 62, angle=-90),
        note("Age of Contact", age_pos[r][0], age_pos[r][1], 55, angle=-90),
        note("Frequency of contacts", 3876, freq_y[r], 60, angle=90),
        note(pearson[r], pearson_pos[r][0], pearson_pos[r][1], 59, color="white", weight=700, xanchor="left"),
    ]

fig.update_layout(
    width=W, height=H, margin=dict(l=0, r=0, t=0, b=0, autoexpand=False), paper_bgcolor="white", plot_bgcolor="white",
    showlegend=False, annotations=annotations,
    shapes=[dict(type="line", xref="paper", yref="paper", x0=px_x(1417), x1=px_x(1417), y0=px_y(56), y1=px_y(3118),
                 line=dict(color="#aaaaaa", width=4, dash="18px,12px"))],
    **layout,
)

fig.write_html("out.html", config={"displayModeBar": False}, post_script="document.body.style.margin='0';")
